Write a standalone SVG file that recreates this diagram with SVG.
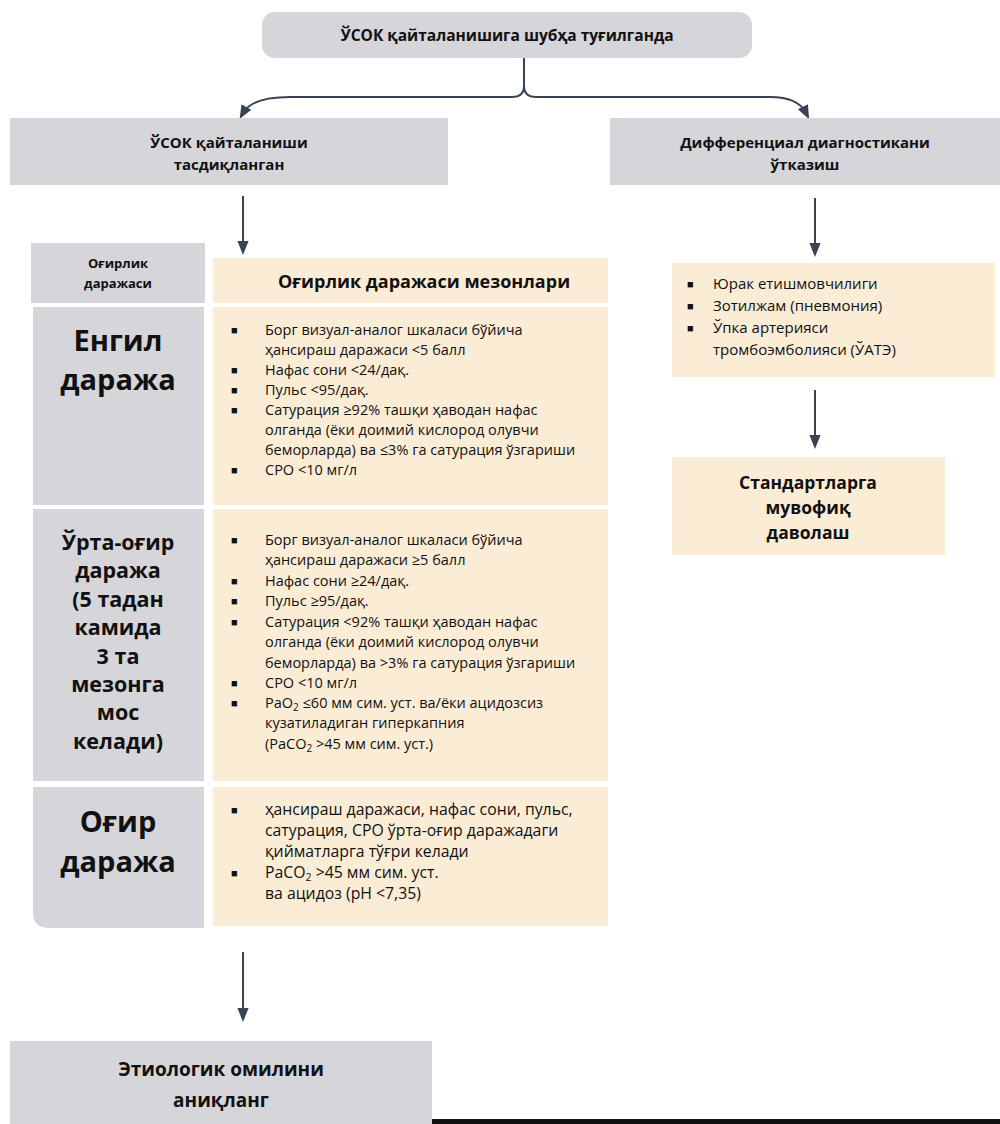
<svg xmlns="http://www.w3.org/2000/svg" width="1000" height="1124" viewBox="0 0 1000 1124">
<defs>
<style>
.g{fill:#d5d5da}
.b{fill:#fbecd6}
.t{font-family:"Open Sans","Noto Sans",sans-serif;fill:#111}
.bd{font-weight:bold}
.c{text-anchor:middle}
.li{font-size:14.5px}
.bu{font-size:11px}
.ln{fill:none;stroke:#3a4352;stroke-width:2}
</style>
<marker id="ah" viewBox="0 0 10 10" refX="5" refY="5" markerWidth="7" markerHeight="7" orient="auto">
<path d="M0,1 L10,5 L0,9 Z" fill="#3a4352"/>
</marker>
</defs>
<rect width="1000" height="1124" fill="#fff"/>

<g id="connectors">
<path class="ln" d="M524,58 L524,86 Q524,97 512,97 L290,97 Q252,97 243,113" marker-end="url(#ah)"/>
<path class="ln" d="M524,86 Q524,97 536,97 L770,97 Q798,97 806,113" marker-end="url(#ah)"/>
<line class="ln" x1="243" y1="196" x2="243" y2="248" marker-end="url(#ah)"/>
<line class="ln" x1="815" y1="198" x2="815" y2="250" marker-end="url(#ah)"/>
<line class="ln" x1="815" y1="390" x2="815" y2="442" marker-end="url(#ah)"/>
<line class="ln" x1="243" y1="952" x2="243" y2="1015" marker-end="url(#ah)"/>
</g>

<g id="top">
<rect class="g" x="262" y="12" width="490" height="46" rx="13"/>
<text class="t bd c" x="507" y="41" font-size="15.5">ЎСОК қайталанишига шубҳа туғилганда</text>
</g>

<g id="confirmed">
<rect class="g" x="10" y="118" width="438" height="67"/>
<text class="t bd c" x="229" y="148" font-size="15">ЎСОК қайталаниши</text>
<text class="t bd c" x="229" y="170" font-size="15">тасдиқланган</text>
</g>

<g id="diffdiag">
<rect class="g" x="610" y="118" width="390" height="67"/>
<text class="t bd c" x="805" y="148" font-size="15">Дифференциал диагностикани</text>
<text class="t bd c" x="805" y="170" font-size="15">ўтказиш</text>
</g>

<g id="severity-header">
<rect class="g" x="31" y="243" width="174" height="60"/>
<text class="t bd c" x="118" y="268" font-size="13">Оғирлик</text>
<text class="t bd c" x="118" y="288" font-size="13">даражаси</text>
</g>

<g id="criteria-header">
<rect class="b" x="213" y="258" width="395" height="45"/>
<text class="t bd c" x="424" y="288" font-size="18">Оғирлик даражаси мезонлари</text>
</g>

<g id="mild-label">
<rect class="g" x="33" y="307" width="171" height="198"/>
<text class="t bd c" x="118" y="351" font-size="29">Енгил</text>
<text class="t bd c" x="118" y="390" font-size="29">даража</text>
</g>

<g id="mild-criteria">
<rect class="b" x="213" y="307" width="395" height="198"/>
<g class="t li">
<text class="bu" x="231" y="334">■</text>
<text x="265" y="335">Борг визуал-аналог шкаласи бўйича</text>
<text x="265" y="355">ҳансираш даражаси &lt;5 балл</text>
<text class="bu" x="231" y="374">■</text>
<text x="265" y="375">Нафас сони &lt;24/дақ.</text>
<text class="bu" x="231" y="394">■</text>
<text x="265" y="395">Пульс &lt;95/дақ.</text>
<text class="bu" x="231" y="414">■</text>
<text x="265" y="415">Сатурация ≥92% ташқи ҳаводан нафас</text>
<text x="265" y="435">олганда (ёки доимий кислород олувчи</text>
<text x="265" y="455">беморларда) ва ≤3% га сатурация ўзгариши</text>
<text class="bu" x="231" y="474">■</text>
<text x="265" y="475">СРО &lt;10 мг/л</text>
</g>
</g>

<g id="moderate-label">
<rect class="g" x="33" y="509" width="171" height="272"/>
<g class="t bd c" font-size="21.5">
<text x="118" y="550">Ўрта-оғир</text>
<text x="118" y="578">даража</text>
<text x="118" y="607">(5 тадан</text>
<text x="118" y="635">камида</text>
<text x="118" y="664">3 та</text>
<text x="118" y="692">мезонга</text>
<text x="118" y="720">мос</text>
<text x="118" y="749">келади)</text>
</g>
</g>

<g id="moderate-criteria">
<rect class="b" x="213" y="509" width="395" height="272"/>
<g class="t li">
<text class="bu" x="231" y="544">■</text>
<text x="265" y="545">Борг визуал-аналог шкаласи бўйича</text>
<text x="265" y="565">ҳансираш даражаси ≥5 балл</text>
<text class="bu" x="231" y="585">■</text>
<text x="265" y="586">Нафас сони ≥24/дақ.</text>
<text class="bu" x="231" y="605">■</text>
<text x="265" y="606">Пульс ≥95/дақ.</text>
<text class="bu" x="231" y="626">■</text>
<text x="265" y="627">Сатурация &lt;92% ташқи ҳаводан нафас</text>
<text x="265" y="647">олганда (ёки доимий кислород олувчи</text>
<text x="265" y="668">беморларда) ва &gt;3% га сатурация ўзгариши</text>
<text class="bu" x="231" y="687">■</text>
<text x="265" y="688">СРО &lt;10 мг/л</text>
<text class="bu" x="231" y="707">■</text>
<text x="265" y="708">PaO<tspan font-size="10" dy="3">2</tspan><tspan dy="-3"> ≤60 мм сим. уст. ва/ёки ацидозсиз</tspan></text>
<text x="265" y="728">кузатиладиган гиперкапния</text>
<text x="265" y="749">(PaCO<tspan font-size="10" dy="3">2</tspan><tspan dy="-3"> &gt;45 мм сим. уст.)</tspan></text>
</g>
</g>

<g id="severe-label">
<path class="g" d="M33,787 L204,787 L204,928 L49,928 Q33,928 33,912 Z"/>
<text class="t bd c" x="118" y="832" font-size="29">Оғир</text>
<text class="t bd c" x="118" y="872" font-size="29">даража</text>
</g>

<g id="severe-criteria">
<rect class="b" x="213" y="787" width="395" height="139"/>
<g class="t" font-size="15.8">
<text class="bu" x="231" y="814">■</text>
<text x="265" y="815">ҳансираш даражаси, нафас сони, пульс,</text>
<text x="265" y="836">сатурация, СРО ўрта-оғир даражадаги</text>
<text x="265" y="857">қийматларга тўғри келади</text>
<text class="bu" x="231" y="877">■</text>
<text x="265" y="878">PaCO<tspan font-size="10.5" dy="3">2</tspan><tspan dy="-3"> &gt;45 мм сим. уст.</tspan></text>
<text x="265" y="899">ва ацидоз (pH &lt;7,35)</text>
</g>
</g>

<g id="differentials">
<rect class="b" x="672" y="263" width="323" height="114"/>
<g class="t" font-size="15">
<text class="bu" x="687" y="288">■</text>
<text x="713" y="289">Юрак етишмовчилиги</text>
<text class="bu" x="687" y="310">■</text>
<text x="713" y="311">Зотилжам (пневмония)</text>
<text class="bu" x="687" y="332">■</text>
<text x="713" y="333">Ўпка артерияси</text>
<text x="713" y="355">тромбоэмболияси (ЎАТЭ)</text>
</g>
</g>

<g id="treatment">
<rect class="b" x="672" y="457" width="273" height="98"/>
<g class="t bd c" font-size="17.5">
<text x="808" y="489">Стандартларга</text>
<text x="808" y="514">мувофиқ</text>
<text x="808" y="539">даволаш</text>
</g>
</g>

<g id="etiology">
<rect class="g" x="10" y="1041" width="422" height="83"/>
<text class="t bd c" x="221" y="1076" font-size="19">Этиологик омилини</text>
<text class="t bd c" x="221" y="1107" font-size="19">аниқланг</text>
</g>

<rect x="432" y="1119" width="568" height="5" fill="#111"/>
</svg>
